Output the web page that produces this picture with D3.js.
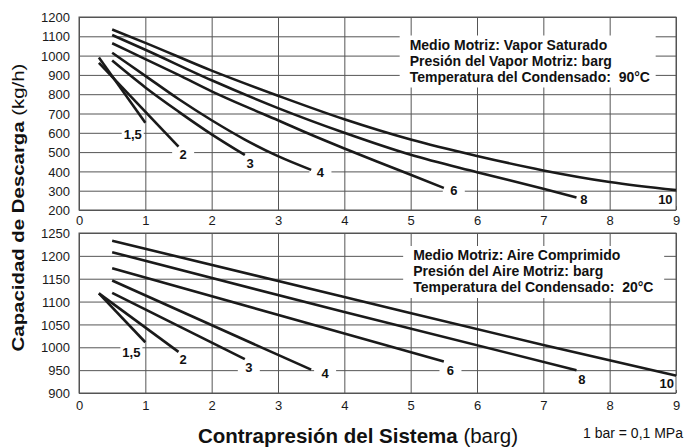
<!DOCTYPE html>
<html>
<head>
<meta charset="utf-8">
<script src="https://cdn.jsdelivr.net/npm/d3@7/dist/d3.min.js"></script>
<style>
  body { margin: 0; background: #fff; }
  text { font-family: "Liberation Sans", Arial, Helvetica, sans-serif; }
</style>
</head>
<body>
<script>
// tick values
var xTicks = [0, 1, 2, 3, 4, 5, 6, 7, 8, 9];
var steamTicks = [200, 300, 400, 500, 600, 700, 800, 900, 1000, 1100, 1200];
var airTicks = [900, 950, 1000, 1050, 1100, 1150, 1200, 1250];

// motive pressure of each curve (barg)
var pressures = ["1,5", "2", "3", "4", "6", "8", "10"];

// Vapor saturado: [contrapresion (barg), capacidad (kg/h)]
var steam15 = [[0.3, 990], [1.0, 652]];
var steam2 = [[0.3, 962], [1.5, 528]];
var steam3 = [[0.5, 974], [1, 835], [1.5, 710], [2, 592], [2.5, 485]];
var steam4 = [[0.5, 1015], [1, 895], [1.5, 775], [2, 665], [2.5, 565], [3, 479], [3.5, 408]];
var steam6 = [[0.5, 1064], [1, 982], [1.5, 900], [2, 815], [2.5, 738], [3, 665], [3.5, 590], [4, 519], [4.5, 450], [5, 383], [5.5, 314]];
var steam8 = [[0.5, 1107], [1, 1030], [2, 872], [3, 728], [4, 600], [5, 486], [6, 396], [7, 310], [7.5, 265]];
var steam10 = [[0.5, 1135], [1, 1066], [2, 922], [3, 792], [4, 670], [5, 565], [6, 480], [7, 405], [8, 345], [9, 303]];

// Aire comprimido
var air15 = [[0.3, 1118], [1.0, 1011]];
var air2 = [[0.3, 1118], [1.5, 990]];
var air3 = [[0.5, 1119], [2.5, 974]];
var air4 = [[0.5, 1146], [3.5, 951]];
var air6 = [[0.5, 1173], [4, 1030], [5.5, 969]];
var air8 = [[0.5, 1208], [4, 1077], [7.5, 950]];
var air10 = [[0.5, 1233], [4, 1110], [7, 1005], [9, 938]];

var steamCurves = [steam15, steam2, steam3, steam4, steam6, steam8, steam10];
var airCurves = [air15, air2, air3, air4, air6, air8, air10];

// where the pressure numbers sit, in data units
var steamLabelAt = [[0.81, 593], [1.57, 490], [2.58, 442], [3.64, 395], [5.65, 300], [7.61, 255], [8.84, 256]];
var airLabelAt = [[0.79, 989], [1.57, 974], [2.56, 957], [3.71, 944], [5.6, 950], [7.58, 929], [8.86, 922]];

var steamLegend = ["Medio Motriz: Vapor Saturado", "Presión del Vapor Motriz: barg", "Temperatura del Condensado:  90°C"];
var airLegend = ["Medio Motriz: Aire Comprimido", "Presión del Aire Motriz: barg", "Temperatura del Condensado:  20°C"];

var width = 684, height = 448;
var plotLeft = 79, plotRight = 676;
var gridColor = "#555";

var svg = d3.select("body").append("svg")
  .attr("width", width)
  .attr("height", height);

var x = d3.scaleLinear().domain([0, 9]).range([plotLeft, plotRight]);

function drawPanel(p) {
  var y = d3.scaleLinear().domain(p.domain).range([p.bottom, p.top]);
  var g = svg.append("g");
  var plotH = p.bottom - p.top;

  // vertical grid + x tick labels
  var gx = g.append("g")
    .attr("transform", "translate(0," + p.bottom + ")")
    .call(d3.axisBottom(x).tickValues(xTicks).tickFormat(d3.format("d"))
      .tickSize(-plotH).tickSizeOuter(0).tickPadding(p.xPad));
  // horizontal grid + y tick labels
  var gy = g.append("g")
    .attr("transform", "translate(" + plotLeft + ",0)")
    .call(d3.axisLeft(y).tickValues(p.ticks).tickFormat(d3.format("d"))
      .tickSize(-(plotRight - plotLeft)).tickSizeOuter(0).tickPadding(9));

  [gx, gy].forEach(function(a) {
    a.select(".domain").remove();
    a.selectAll("line").attr("stroke", gridColor).attr("stroke-width", 1);
    a.selectAll("text")
      .attr("font-size", 13)
      .attr("font-family", "'Liberation Sans', Arial, sans-serif")
      .attr("fill", "#1a1a1a");
  });
  gy.selectAll("text").attr("dy", "0.36em");

  // white patches behind the pressure numbers
  g.selectAll(".lblbox")
    .data(p.labelAt)
    .enter()
    .append("rect")
    .attr("x", function(d) { return x(d[0]) - 11; })
    .attr("y", function(d) { return y(d[1]) - 7; })
    .attr("width", 22)
    .attr("height", 14)
    .attr("fill", "#fff");

  // legend box
  var lx = x(5) + p.legendDx;
  g.append("rect")
    .attr("x", lx - 10)
    .attr("y", p.top + p.legendY - 14)
    .attr("width", p.legendW)
    .attr("height", 52)
    .attr("fill", "#fff");

  // frame
  g.append("rect")
    .attr("x", plotLeft)
    .attr("y", p.top)
    .attr("width", plotRight - plotLeft)
    .attr("height", plotH)
    .attr("fill", "none")
    .attr("stroke", gridColor)
    .attr("stroke-width", 1);

  // curves
  var line = d3.line()
    .x(function(d) { return x(d[0]); })
    .y(function(d) { return y(d[1]); })
    .curve(d3.curveMonotoneX);

  g.selectAll(".curve")
    .data(p.curves)
    .enter()
    .append("path")
    .attr("d", line)
    .attr("fill", "none")
    .attr("stroke", "#1a1a1a")
    .attr("stroke-width", 2.6);

  // pressure numbers
  g.selectAll(".lbl")
    .data(p.labelAt)
    .enter()
    .append("text")
    .attr("x", function(d) { return x(d[0]); })
    .attr("y", function(d) { return y(d[1]); })
    .attr("dy", "0.36em")
    .attr("text-anchor", "middle")
    .attr("font-size", 13)
    .attr("font-weight", "bold")
    .attr("fill", "#111")
    .text(function(d, i) { return pressures[i]; });

  // legend text
  g.selectAll(".leg")
    .data(p.legend)
    .enter()
    .append("text")
    .attr("x", lx)
    .attr("y", function(d, i) { return p.top + p.legendY + i * 16; })
    .attr("font-size", 14)
    .attr("font-weight", "bold")
    .attr("fill", "#111")
    .style("white-space", "pre")
    .text(function(d) { return d; });
}

drawPanel({
  top: 17, bottom: 210, domain: [200, 1200], ticks: steamTicks,
  curves: steamCurves, labelAt: steamLabelAt, legend: steamLegend,
  xPad: 5.5, legendDx: -1, legendY: 32.5, legendW: 256
});

drawPanel({
  top: 233, bottom: 393, domain: [900, 1250], ticks: airTicks,
  curves: airCurves, labelAt: airLabelAt, legend: airLegend,
  xPad: 7.5, legendDx: 2.5, legendY: 27, legendW: 261
});

// axis titles
var yTitle = svg.append("text")
  .attr("transform", "translate(24,207.5) rotate(-90) scale(1.2,1)")
  .attr("text-anchor", "middle")
  .attr("font-size", 17)
  .attr("fill", "#111");
yTitle.append("tspan").attr("font-weight", "bold").text("Capacidad de Descarga ");
yTitle.append("tspan").text("(kg/h)");

var xTitle = svg.append("text")
  .attr("x", 358)
  .attr("y", 443)
  .attr("text-anchor", "middle")
  .attr("font-size", 20.5)
  .attr("fill", "#111")
  .style("white-space", "pre");
xTitle.append("tspan").attr("font-weight", "bold").text("Contrapresión del Sistema ");
xTitle.append("tspan").text("(barg)");

svg.append("text")
  .attr("x", 683)
  .attr("y", 438)
  .attr("text-anchor", "end")
  .attr("font-size", 14)
  .attr("fill", "#111")
  .text("1 bar = 0,1 MPa");
</script>
</body>
</html>
